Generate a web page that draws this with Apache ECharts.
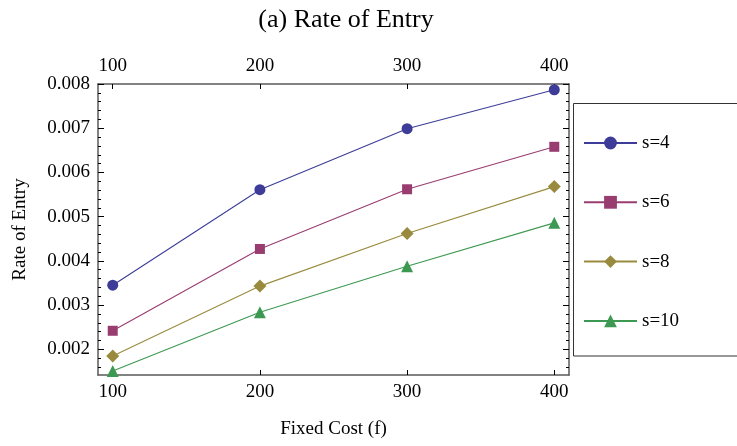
<!DOCTYPE html>
<html>
<head>
<meta charset="utf-8">
<script src="https://cdn.jsdelivr.net/npm/echarts@6/dist/echarts.min.js"></script>
<style>html,body{margin:0;padding:0;background:#fff}#c{width:737px;height:446px}</style>
</head>
<body>
<div id="c"></div>
<script>
const fixedCost = [100, 200, 300, 400];
const s4 = [0.00345, 0.00561, 0.00699, 0.00787];
const s6 = [0.00242, 0.00427, 0.00562, 0.00658];
const s8 = [0.00185, 0.00343, 0.00462, 0.00568];
const s10 = [0.00151, 0.00284, 0.00388, 0.00486];
const seriesNames = ['s=4', 's=6', 's=8', 's=10'];
const xTicks = [100, 200, 300, 400];
const yMajor = [0.002, 0.003, 0.004, 0.005, 0.006, 0.007, 0.008];
const yMinor = [];
for (let i = 7; i <= 40; i++) { if (i % 5 !== 0) yMinor.push(i * 0.0002); }

const FONT = '"Liberation Serif","Times New Roman",serif';
const colors = ['#3d3d99', '#993d71', '#998b3d', '#3d9952'];
const symbols = ['circle', 'rect', 'diamond', 'triangle'];
const sizes = [11, 10, 13, 12];
const allData = [s4, s6, s8, s10];
const frame = {show: true, lineStyle: {color: '#5a5a5a', width: 1.5}};

const chart = echarts.init(document.getElementById('c'));
const xBase = {type: 'value', min: 90, max: 410, splitLine: {show: false}, axisLine: frame};
const yBase = {type: 'value', min: 0.00142, max: 0.008, splitLine: {show: false}, axisLine: frame};
chart.setOption({
  animation: false,
  backgroundColor: '#fff',
  title: {text: '(a) Rate of Entry', left: 341, textAlign: 'center', top: 2,
    textStyle: {fontFamily: FONT, fontSize: 26, fontWeight: 'normal', color: '#000'}},
  grid: {left: 98, right: 168, top: 84, bottom: 71},
  legend: {
    orient: 'vertical', left: 583, top: 133, padding: 0, itemGap: 39.3,
    itemWidth: 53, itemHeight: 16,
    textStyle: {fontFamily: FONT, fontSize: 19, color: '#000', lineHeight: 20},
    data: seriesNames
  },
  graphic: [{type: 'rect', shape: {x: 573.5, y: 103.5, width: 200, height: 252.5},
    style: {fill: 'none', stroke: '#333', lineWidth: 1}, silent: true}],
  xAxis: [
    Object.assign({}, xBase, {position: 'bottom', name: 'Fixed Cost (f)', nameLocation: 'middle', nameGap: 45,
      nameTextStyle: {fontFamily: FONT, fontSize: 19, color: '#000'},
      axisTick: {show: true, inside: true, length: 5, customValues: xTicks, lineStyle: {color: '#000'}},
      axisLabel: {customValues: xTicks, margin: 8, fontFamily: FONT, fontSize: 19, color: '#000'}}),
    Object.assign({}, xBase, {position: 'top',
      axisTick: {show: true, inside: true, length: 5, customValues: xTicks, lineStyle: {color: '#000'}},
      axisLabel: {customValues: xTicks, margin: 8, fontFamily: FONT, fontSize: 19, color: '#000'}})
  ],
  yAxis: [
    Object.assign({}, yBase, {position: 'left', name: 'Rate of Entry', nameLocation: 'middle', nameGap: 68,
      nameTextStyle: {fontFamily: FONT, fontSize: 19, color: '#000'},
      axisTick: {show: true, inside: true, length: 6, customValues: yMajor, lineStyle: {color: '#000'}},
      axisLabel: {customValues: yMajor, margin: 8, fontFamily: FONT, fontSize: 19, color: '#000',
        formatter: v => v.toFixed(3)}}),
    Object.assign({}, yBase, {position: 'right',
      axisTick: {show: true, inside: true, length: 6, customValues: yMajor, lineStyle: {color: '#000'}},
      axisLabel: {show: false}}),
    Object.assign({}, yBase, {position: 'left', axisLine: {show: false},
      axisTick: {show: true, inside: true, length: 3, customValues: yMinor, lineStyle: {color: '#000'}},
      axisLabel: {show: false}}),
    Object.assign({}, yBase, {position: 'right', axisLine: {show: false},
      axisTick: {show: true, inside: true, length: 3, customValues: yMinor, lineStyle: {color: '#000'}},
      axisLabel: {show: false}})
  ],
  series: seriesNames.map((n, i) => ({
    name: n, type: 'line', xAxisIndex: 0, yAxisIndex: 0,
    data: fixedCost.map((x, j) => [x, allData[i][j]]),
    symbol: symbols[i], symbolSize: sizes[i], showSymbol: true,
    itemStyle: {color: colors[i]}, lineStyle: {color: colors[i], width: 1.1}
  }))
});
</script>
</body>
</html>
